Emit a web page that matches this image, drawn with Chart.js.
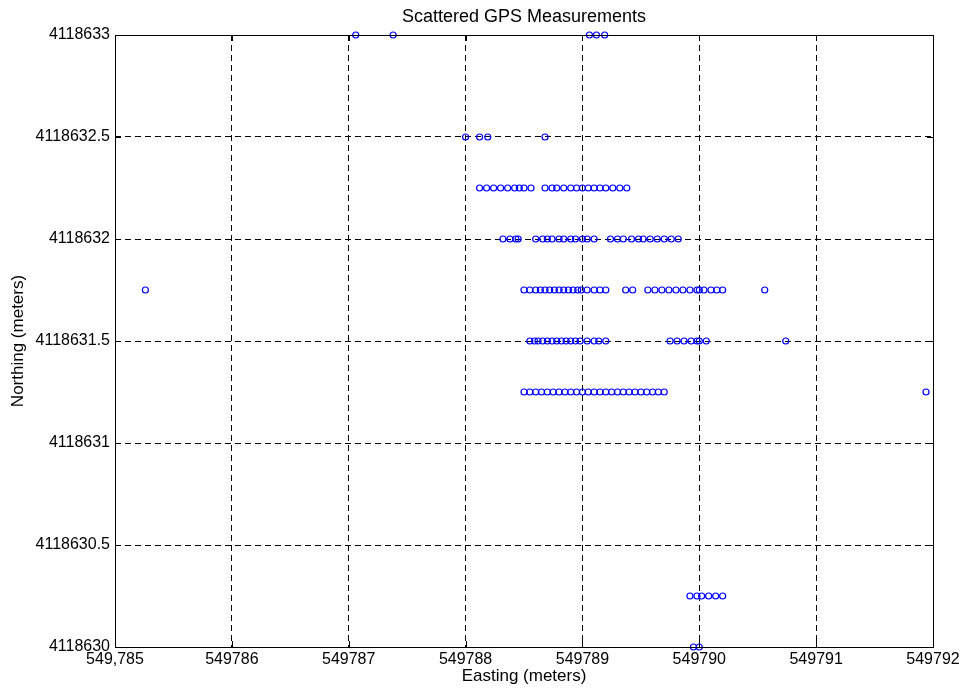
<!DOCTYPE html>
<html>
<head>
<meta charset="utf-8">
<script src="https://cdn.jsdelivr.net/npm/chart.js@4/dist/chart.umd.min.js"></script>
<style>
html,body{margin:0;padding:0;background:#fff;}
#wrap{width:964px;height:689px;}
</style>
</head>
<body>
<div id="wrap"><canvas id="c" width="964" height="689"></canvas></div>
<script>
// ---- data ----
const xTickValues = [549785, 549786, 549787, 549788, 549789, 549790, 549791, 549792];
const xTickLabels = ['549,785', '549786', '549787', '549788', '549789', '549790', '549791', '549792'];
const yTickValues = [4118630, 4118630.5, 4118631, 4118631.5, 4118632, 4118632.5, 4118633];
const yTickLabels = ['4118630', '4118630.5', '4118631', '4118631.5', '4118632', '4118632.5', '4118633'];

const northingLevels = [4118633, 4118632.5, 4118632.25, 4118632, 4118631.75, 4118631.5, 4118631.25, 4118630.25, 4118630];

const east_4118633 = [549787.06, 549787.38, 549789.06, 549789.12, 549789.19];
const east_4118632_5 = [549788.00, 549788.12, 549788.19, 549788.68];
const east_4118632_25 = [549788.12, 549788.18, 549788.24, 549788.30, 549788.36, 549788.42, 549788.46, 549788.50, 549788.56,
  549788.68, 549788.74, 549788.78, 549788.84, 549788.90, 549788.95, 549789.00, 549789.05, 549789.10, 549789.15, 549789.20, 549789.26, 549789.32, 549789.38];
const east_4118632 = [549788.32, 549788.38, 549788.43, 549788.45,
  549788.60, 549788.66, 549788.70, 549788.74, 549788.80, 549788.84, 549788.90, 549788.94, 549789.00, 549789.04, 549789.10,
  549789.24, 549789.30, 549789.35, 549789.42, 549789.48, 549789.52, 549789.58, 549789.64, 549789.70, 549789.76, 549789.82];
const east_4118631_75 = [549785.26,
  549788.50, 549788.55, 549788.60, 549788.64, 549788.68, 549788.72, 549788.76, 549788.80, 549788.84, 549788.88, 549788.92, 549788.96, 549788.99, 549789.04, 549789.10, 549789.15, 549789.20,
  549789.37, 549789.43,
  549789.56, 549789.62, 549789.68, 549789.74, 549789.80, 549789.86, 549789.92, 549789.98, 549790.00, 549790.04, 549790.10, 549790.15, 549790.20,
  549790.56];
const east_4118631_5 = [549788.55, 549788.59, 549788.62, 549788.66, 549788.70, 549788.74, 549788.78, 549788.82, 549788.86, 549788.90, 549788.94, 549788.98,
  549789.04, 549789.10, 549789.14, 549789.20,
  549789.75, 549789.81, 549789.87, 549789.93, 549789.98, 549790.00, 549790.06,
  549790.74];
const east_4118631_25 = [549788.50, 549788.55, 549788.60, 549788.65, 549788.70, 549788.75, 549788.80, 549788.85, 549788.90, 549788.95,
  549789.00, 549789.05, 549789.10, 549789.15, 549789.20, 549789.25, 549789.30, 549789.35, 549789.40, 549789.45, 549789.50, 549789.55, 549789.60, 549789.65, 549789.70,
  549791.94];
const east_4118630_25 = [549789.92, 549789.98, 549790.02, 549790.08, 549790.14, 549790.20];
const east_4118630 = [549789.95, 549790.00];

const eastRows = [east_4118633, east_4118632_5, east_4118632_25, east_4118632, east_4118631_75, east_4118631_5, east_4118631_25, east_4118630_25, east_4118630];

const points = [];
northingLevels.forEach((n, i) => eastRows[i].forEach(e => points.push({x: e, y: n})));

const FONT = 'Arial, "Liberation Sans", Helvetica, sans-serif';

const frame = {
  id: 'frame',
  afterDatasetsDraw(chart) {
    const {ctx, chartArea: a, scales} = chart;
    ctx.save();
    ctx.strokeStyle = '#000';
    ctx.lineWidth = 1;
    ctx.setLineDash([]);
    const L = 6;
    ctx.beginPath();
    scales.x.ticks.forEach(t => {
      const px = Math.round(scales.x.getPixelForValue(t.value)) + 0.5;
      ctx.moveTo(px, a.bottom); ctx.lineTo(px, a.bottom - L);
      ctx.moveTo(px, a.top); ctx.lineTo(px, a.top + L);
    });
    scales.y.ticks.forEach(t => {
      const py = Math.round(scales.y.getPixelForValue(t.value)) + 0.5;
      ctx.moveTo(a.left, py); ctx.lineTo(a.left + L, py);
      ctx.moveTo(a.right, py); ctx.lineTo(a.right - L, py);
    });
    ctx.stroke();
    ctx.strokeRect(Math.round(a.left) + 0.5, Math.round(a.top) + 0.5, Math.round(a.right - a.left), Math.round(a.bottom - a.top));
    ctx.restore();
  }
};

new Chart(document.getElementById('c'), {
  type: 'scatter',
  data: {
    datasets: [{
      data: points,
      pointStyle: 'circle',
      pointRadius: 3,
      pointHoverRadius: 3,
      borderColor: '#0000ff',
      backgroundColor: 'rgba(0,0,0,0)',
      borderWidth: 1.2,
      clip: false
    }]
  },
  options: {
    responsive: false,
    animation: false,
    devicePixelRatio: 1,
    layout: {padding: {left: 0, right: 31, top: 0, bottom: 0}},
    plugins: {
      legend: {display: false},
      tooltip: {enabled: false},
      title: {
        display: true,
        fullSize: false,
        text: 'Scattered GPS Measurements',
        color: '#000',
        font: {family: FONT, size: 18, weight: 'normal'},
        padding: {top: 6.5, bottom: 6.9}
      }
    },
    scales: {
      x: {
        type: 'linear',
        min: 549785, max: 549792,
        afterFit(s) { s.height = 42; },
        afterBuildTicks(s) { s.ticks = xTickValues.map(v => ({value: v})); },
        ticks: {
          color: '#000',
          font: {family: FONT, size: 16},
          padding: 3,
          maxRotation: 0,
          autoSkip: false,
          callback: (v, i) => xTickLabels[i]
        },
        grid: {color: '#000', lineWidth: 1, drawTicks: false},
        border: {display: false, dash: [6, 4]},
        title: {display: true, text: 'Easting (meters)', color: '#000', font: {family: FONT, size: 17}, padding: {top: 0, bottom: 2}}
      },
      y: {
        type: 'linear',
        min: 4118630, max: 4118633,
        afterFit(s) { s.width = 115; },
        afterBuildTicks(s) { s.ticks = yTickValues.map(v => ({value: v})); },
        ticks: {
          color: '#000',
          font: {family: FONT, size: 16},
          padding: 5,
          autoSkip: false,
          callback: (v, i) => yTickLabels[i]
        },
        grid: {color: '#000', lineWidth: 1, drawTicks: false},
        border: {display: false, dash: [6, 4]},
        title: {display: true, text: 'Northing (meters)', color: '#000', font: {family: FONT, size: 17}, padding: {top: 8, bottom: 0}}
      }
    }
  },
  plugins: [frame]
});
</script>
</body>
</html>
